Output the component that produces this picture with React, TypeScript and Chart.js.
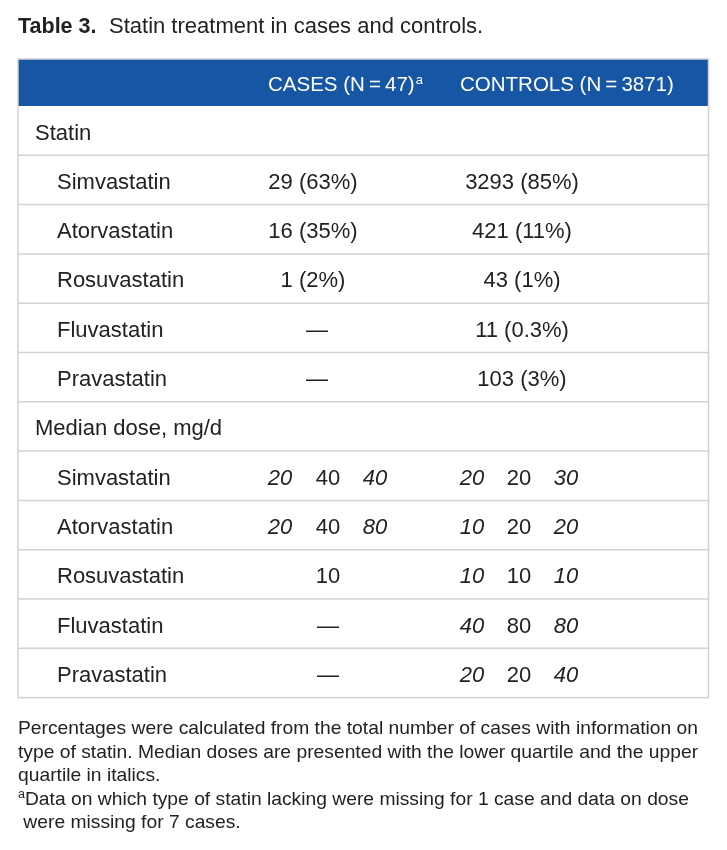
import React, { useEffect, useRef } from "react";
import { Chart, registerables } from "chart.js";

Chart.register(...registerables);

const titleBold = "Table 3.";
const titleText = "Statin treatment in cases and controls.";
const headerCases = "CASES (N\u2009=\u200947)";
const headerCasesSup = "a";
const headerControls = "CONTROLS (N\u2009=\u20093871)";

const section1 = "Statin";
const section2 = "Median dose, mg/d";
const statinNames = ["Simvastatin", "Atorvastatin", "Rosuvastatin", "Fluvastatin", "Pravastatin"];
const casesCounts = ["29 (63%)", "16 (35%)", "1 (2%)", "\u2014", "\u2014"];
const controlsCounts = ["3293 (85%)", "421 (11%)", "43 (1%)", "11 (0.3%)", "103 (3%)"];
// [lower quartile, median, upper quartile]
const casesDose: (number | null)[][] = [
  [20, 40, 40],
  [20, 40, 80],
  [null, 10, null],
  [],
  [],
];
const controlsDose: (number | null)[][] = [
  [20, 20, 30],
  [10, 20, 20],
  [10, 10, 10],
  [40, 80, 80],
  [20, 20, 40],
];
const footLines = [
  "Percentages were calculated from the total number of cases with information on",
  "type of statin. Median doses are presented with the lower quartile and the upper",
  "quartile in italics.",
  "Data on which type of statin lacking were missing for 1 case and data on dose",
  " were missing for 7 cases.",
];

const W = 727;
const H = 850;
const FONT = "'Liberation Sans', Arial, Helvetica, sans-serif";

const tablePlugin = {
  id: "tablePlugin",
  afterDraw(chart: any) {
    const ctx: CanvasRenderingContext2D = chart.ctx;
    const xs = chart.scales.x;
    const ys = chart.scales.y;
    const X = (v: number) => xs.getPixelForValue(v);
    const Y = (v: number) => ys.getPixelForValue(v);

    const tLeft = 18, tRight = 708.5, hTop = 59, hBot = 106, rowH = 49.3;
    const nRows = 12;
    const text = "#222222";
    const body = `22px ${FONT}`;

    ctx.save();
    ctx.textBaseline = "alphabetic";

    // title
    ctx.fillStyle = text;
    ctx.font = `bold 21.5px ${FONT}`;
    ctx.textAlign = "left";
    ctx.fillText(titleBold, X(18), Y(33));
    ctx.font = `22px ${FONT}`;
    ctx.fillText(titleText, X(109), Y(33));

    // header
    ctx.fillStyle = "#1656A5";
    ctx.fillRect(X(tLeft), Y(hTop), X(tRight) - X(tLeft), Y(hBot) - Y(hTop));
    ctx.fillStyle = "#ffffff";
    ctx.font = `20.5px ${FONT}`;
    ctx.fillText(headerCases, X(268), Y(91));
    const wc = ctx.measureText(headerCases).width;
    ctx.font = `13px ${FONT}`;
    ctx.fillText(headerCasesSup, X(268) + wc + 1, Y(84));
    ctx.font = `20.5px ${FONT}`;
    ctx.fillText(headerControls, X(460), Y(91));

    // grid lines
    ctx.strokeStyle = "#d2d2d2";
    ctx.lineWidth = 1.5;
    for (let i = 1; i < nRows; i++) {
      const y = Y(hBot + i * rowH);
      ctx.beginPath();
      ctx.moveTo(X(tLeft), y);
      ctx.lineTo(X(tRight), y);
      ctx.stroke();
    }
    ctx.strokeRect(X(tLeft), Y(hTop), X(tRight) - X(tLeft), Y(hBot + nRows * rowH) - Y(hTop));

    const base = (i: number) => Y(hBot + i * rowH + 33.5);
    ctx.fillStyle = text;
    ctx.font = body;
    ctx.textAlign = "left";
    ctx.fillText(section1, X(35), base(0));
    ctx.fillText(section2, X(35), base(6));

    statinNames.forEach((name, k) => {
      const r1 = 1 + k;
      const r2 = 7 + k;
      ctx.font = body;
      ctx.textAlign = "left";
      ctx.fillText(name, X(57), base(r1));
      ctx.fillText(name, X(57), base(r2));
      ctx.textAlign = "center";
      ctx.fillText(casesCounts[k], X(casesCounts[k] === "\u2014" ? 317 : 313), base(r1));
      ctx.fillText(controlsCounts[k], X(522), base(r1));

      const drawDose = (vals: (number | null)[], centers: number[]) => {
        if (!vals.length) {
          ctx.font = body;
          ctx.fillText("\u2014", X(centers[1]), base(r2));
          return;
        }
        vals.forEach((v, j) => {
          if (v === null) return;
          ctx.font = j === 1 ? body : `italic ${body}`;
          ctx.fillText(String(v), X(centers[j]), base(r2));
        });
      };
      drawDose(casesDose[k], [280, 328, 375]);
      drawDose(controlsDose[k], [472, 519, 566]);
    });

    // footnotes
    ctx.textAlign = "left";
    ctx.font = `18.5px ${FONT}`;
    const w0 = ctx.measureText(footLines[0]).width;
    const sx = (698 - 18) / w0;
    footLines.forEach((line, i) => {
      const y = Y(734 + i * 23.5);
      ctx.save();
      ctx.translate(X(18), y);
      ctx.scale(sx, 1);
      let off = 0;
      if (i === 3) {
        ctx.font = `12px ${FONT}`;
        ctx.fillText("a", 0, -7);
        off = ctx.measureText("a").width;
        ctx.font = `18.5px ${FONT}`;
      }
      ctx.fillText(line, off, 0);
      ctx.restore();
    });

    ctx.restore();
  },
};

export default function App() {
  const ref = useRef<HTMLCanvasElement>(null);
  useEffect(() => {
    if (!ref.current) return;
    const chart = new Chart(ref.current, {
      type: "scatter",
      data: { datasets: [{ data: [], pointRadius: 0 }] },
      options: {
        animation: false,
        responsive: false,
        devicePixelRatio: 1,
        layout: { padding: 0 },
        plugins: { legend: { display: false }, tooltip: { enabled: false } },
        scales: {
          x: { type: "linear", min: 0, max: W, display: false },
          y: { type: "linear", min: 0, max: H, reverse: true, display: false },
        },
      },
      plugins: [tablePlugin],
    });
    return () => chart.destroy();
  }, []);
  return (
    <div style={{ position: "fixed", left: 0, top: 0, width: W, height: H, background: "#fff" }}>
      <canvas ref={ref} width={W} height={H} style={{ display: "block" }} />
    </div>
  );
}
